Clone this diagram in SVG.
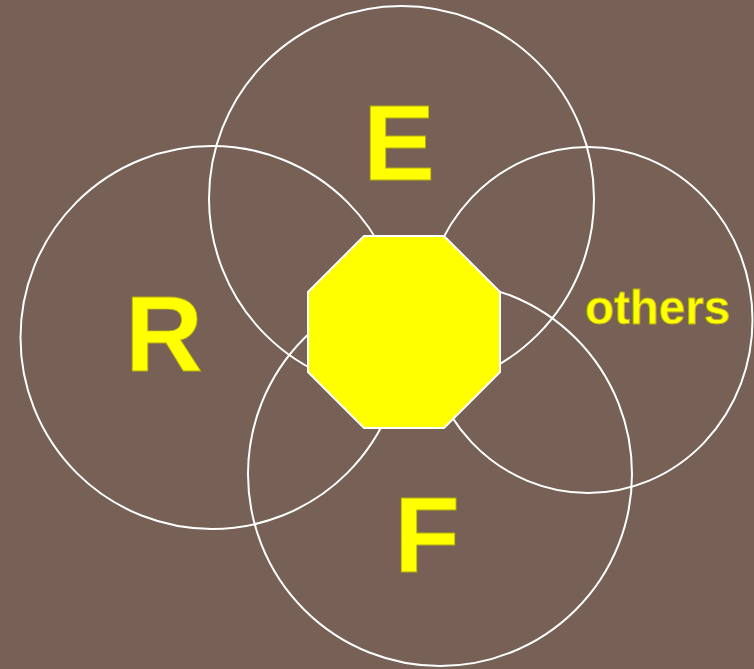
<svg xmlns="http://www.w3.org/2000/svg" width="754" height="669" viewBox="0 0 754 669">
<style>
.c{fill:none;stroke:#fff;stroke-width:2}
.t{fill:#ff0;stroke:#b4ac10;stroke-width:0.8;font-family:"Liberation Sans",Arial,sans-serif;font-weight:bold;text-anchor:middle}
</style>
<rect width="754" height="669" fill="#776055"/>
<g id="circles">
<circle id="circle-E" class="c" cx="401.5" cy="198.5" r="192.5"/>
<circle id="circle-R" class="c" cx="212" cy="337.5" r="191.5"/>
<ellipse id="circle-others" class="c" cx="588" cy="320" rx="164.5" ry="173"/>
<circle id="circle-F" class="c" cx="440" cy="474" r="192"/>
</g>
<g id="center">
<polygon points="364,236 444,236 500,292 500,372 444,428 364,428 308,372 308,292" fill="#ff0" stroke="#fff" stroke-width="2"/>
</g>
<g id="labels">
<text class="t" x="399" y="180" font-size="108">E</text>
<text class="t" x="164" y="371" font-size="108">R</text>
<text class="t" x="427" y="572" font-size="108">F</text>
<text class="t" x="657.5" y="324" font-size="47.5">others</text>
</g>
</svg>
